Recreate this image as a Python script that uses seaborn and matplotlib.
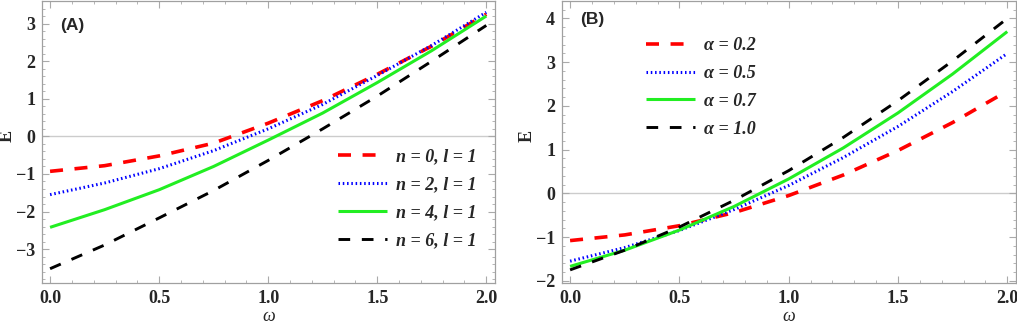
import numpy as np
import pandas as pd
import matplotlib
matplotlib.use("Agg")
import matplotlib.pyplot as plt
import seaborn as sns
from matplotlib.ticker import MultipleLocator

# ---- data ----
omega = [0.0, 0.25, 0.5, 0.75, 1.0, 1.25, 1.5, 1.75, 2.0]

labels_a = ["n = 0, l = 1", "n = 2, l = 1", "n = 4, l = 1", "n = 6, l = 1"]
a_n0 = [-0.93, -0.78, -0.52, -0.18, 0.35, 0.95, 1.65, 2.40, 3.25]
a_n2 = [-1.55, -1.24, -0.86, -0.38, 0.20, 0.85, 1.62, 2.42, 3.30]
a_n4 = [-2.42, -1.95, -1.42, -0.80, -0.10, 0.62, 1.43, 2.28, 3.20]
a_n6 = [-3.52, -2.89, -2.17, -1.44, -0.64, 0.20, 1.07, 2.00, 2.95]

labels_b = ["α = 0.2", "α = 0.5", "α = 0.7", "α = 1.0"]
b_a02 = [-1.08, -0.95, -0.74, -0.44, -0.05, 0.42, 0.98, 1.62, 2.34]
b_a05 = [-1.55, -1.24, -0.85, -0.37, 0.18, 0.82, 1.53, 2.33, 3.20]
b_a07 = [-1.67, -1.30, -0.84, -0.30, 0.33, 1.04, 1.84, 2.73, 3.70]
b_a10 = [-1.75, -1.30, -0.77, -0.16, 0.52, 1.28, 2.12, 3.03, 4.00]

sns.set_theme(style="white")
plt.rcParams["font.family"] = ["Liberation Serif", "DejaVu Serif"]

colors = ["#ff0000", "#0000ff", "#22ee22", "#000000"]
styles = [
    dict(lw=2.6, linestyle=(0, (3.6, 3.2))),
    dict(lw=2.2, linestyle=(0, (0.5, 0.9))),
    dict(lw=2.2, linestyle="-"),
    dict(lw=2.1, linestyle=(0, (4.0, 4.0))),
]

fig = plt.figure(figsize=(10.17, 3.25), dpi=100)
axA = fig.add_axes([42 / 1017, 1 - 283 / 325, (495 - 42) / 1017, (283 - 1) / 325])
axB = fig.add_axes([562 / 1017, 1 - 283 / 325, (1016 - 562) / 1017, (283 - 1) / 325])

tickfont = dict(family="Liberation Serif", weight="bold", size=13)


def draw(ax, series, labels, ylim, panel, panel_y, legend_anchor):
    for vals, lab, c, st in zip(series, labels, colors, styles):
        df = pd.DataFrame({"omega": omega, "E": vals})
        sns.lineplot(data=df, x="omega", y="E", ax=ax, color=c, label=lab,
                     solid_capstyle="butt", dash_capstyle="butt", **st)
    ax.axhline(0, color="#cccccc", lw=1.0, zorder=0)
    ax.set_xlim(-0.037, 2.04)
    ax.set_ylim(*ylim)
    ax.xaxis.set_major_locator(MultipleLocator(0.5))
    ax.xaxis.set_minor_locator(MultipleLocator(0.1))
    ax.yaxis.set_major_locator(MultipleLocator(1))
    ax.yaxis.set_minor_locator(MultipleLocator(0.2))
    ax.xaxis.set_major_formatter(matplotlib.ticker.FormatStrFormatter("%.1f"))
    ax.yaxis.set_major_formatter(matplotlib.ticker.FuncFormatter(
        lambda v, p: ("\u2212%d" % abs(round(v))) if v < -0.01 else "%d" % round(v)))
    ax.tick_params(which="both", direction="in", top=True, right=True,
                   color="#aaaaaa", bottom=True, left=True)
    ax.tick_params(which="major", length=5, width=0.8, pad=5)
    ax.tick_params(which="minor", length=2.5, width=0.6)
    for lbl in ax.get_xticklabels() + ax.get_yticklabels():
        lbl.set_fontproperties(matplotlib.font_manager.FontProperties(**tickfont))
    for sp in ax.spines.values():
        sp.set_color("#a0a0a0")
        sp.set_linewidth(0.9)
    ax.set_xlabel("ω", fontsize=13, style="italic", family="Liberation Serif")
    ax.set_ylabel("E", fontsize=13, weight="bold", family="Liberation Serif")
    ax.xaxis.label.set_va("baseline")
    ax.xaxis.set_label_coords(0.5, -0.133)
    ax.yaxis.label.set_va("center")
    ax.yaxis.label.set_ha("center")
    ax.yaxis.set_label_coords(-0.077, 0.52)
    ax.text(0.04, panel_y, panel, transform=ax.transAxes, fontsize=12.5,
            weight="bold", family="Liberation Sans", va="center", ha="left")
    ax.legend(loc="upper left", bbox_to_anchor=legend_anchor, frameon=False,
              handlelength=2.7, handletextpad=0.5, labelspacing=0.6,
              borderaxespad=0.0, borderpad=0.2,
              prop=dict(family="Liberation Serif", weight="bold",
                        style="italic", size=13))


draw(axA, [a_n0, a_n2, a_n4, a_n6], labels_a, (-3.9, 3.6),
     "(A)", 0.912, (0.645, 0.49))
draw(axB, [b_a02, b_a05, b_a07, b_a10], labels_b, (-2.05, 4.4),
     "(B)", 0.935, (0.178, 0.885))

fig.savefig("out.png", dpi=100)
